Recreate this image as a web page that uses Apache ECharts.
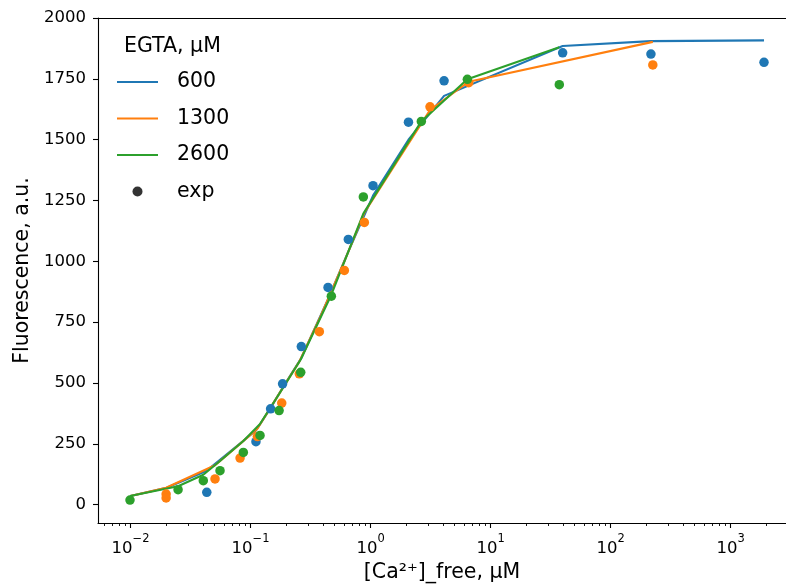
<!DOCTYPE html>
<html>
<head>
<meta charset="utf-8">
<script src="https://cdn.jsdelivr.net/npm/echarts@6/dist/echarts.min.js"></script>
<style>html,body{margin:0;padding:0;background:#fff}#c{width:786px;height:585px}</style>
</head>
<body>
<div id="c"></div>
<script>
// experimental points
var blueX = [0.0432, 0.111, 0.147, 0.185, 0.265, 0.4425, 0.653, 1.049, 2.07, 4.1, 39.9, 217, 1900];
var blueY = [51, 259, 394, 497, 650, 893, 1090, 1311, 1572, 1742, 1857, 1852, 1818];
var orangeX = [0.0198, 0.0198, 0.0506, 0.0818, 0.114, 0.182, 0.255, 0.3745, 0.605, 0.888, 3.13, 6.58, 225];
var orangeY = [44, 28, 106, 192, 280, 418, 538, 711, 963, 1160, 1635, 1734, 1807];
var greenX = [0.0099, 0.0249, 0.0404, 0.0557, 0.0871, 0.12, 0.173, 0.262, 0.4715, 0.871, 2.65, 6.41, 37.4];
var greenY = [19, 62, 99, 140, 215, 285, 387, 544, 857, 1265, 1575, 1748, 1726];
// model curves
var blueFitX = [0.01, 0.02, 0.0432, 0.111, 0.147, 0.185, 0.265, 0.4425, 0.653, 1.049, 2.07, 4.1, 39.9, 217, 1900];
var blueFitY = [36, 70, 140, 305, 398, 480, 603, 845, 1040, 1270, 1500, 1680, 1885, 1905, 1908];
var orangeFitX = [0.01, 0.0198, 0.0506, 0.0818, 0.114, 0.182, 0.255, 0.3745, 0.605, 0.888, 3.13, 6.58, 225];
var orangeFitY = [36, 70, 162, 250, 312, 473, 588, 763, 1000, 1200, 1622, 1738, 1902];
var greenFitX = [0.0099, 0.0249, 0.0404, 0.0557, 0.0871, 0.12, 0.173, 0.262, 0.4715, 0.871, 2.65, 6.41, 37.4];
var greenFitY = [36, 76, 123, 180, 262, 332, 455, 597, 863, 1196, 1575, 1748, 1880];
// ticks
var xMajorTicks = [0.01, 0.1, 1, 10, 100, 1000];
var yTicks = [0, 250, 500, 750, 1000, 1250, 1500, 1750, 2000];
var legendNames = ['600', '1300', '2600', 'exp'];

var xMinorTicks = [];
for (var n = -3; n <= 3; n++) {
  for (var k = 2; k <= 9; k++) {
    var v = k * Math.pow(10, n);
    if (v > 0.0054 && v < 2890) xMinorTicks.push(+v.toPrecision(3));
  }
}
function pairs(xs, ys) { return xs.map(function (x, i) { return [x, ys[i]]; }); }

var C = ['#1f77b4', '#ff7f0e', '#2ca02c'];
var FONT = 'DejaVu Sans';
var xMin = Math.pow(10, -2.271), xMax = Math.pow(10, 3.462);

function lineS(name, xs, ys, c) {
  return { type: 'line', name: name, data: pairs(xs, ys), symbol: 'none', xAxisIndex: 0,
    lineStyle: { color: c, width: 2.1 }, itemStyle: { color: c }, animation: false, z: 2 };
}
function dotS(xs, ys, c) {
  return { type: 'scatter', data: pairs(xs, ys), symbolSize: 9.5, xAxisIndex: 0,
    itemStyle: { color: c, opacity: 1 }, animation: false, z: 2 };
}
var LINE_ICON = 'path://M0,0L41,0L41,2.1L0,2.1Z';

var chart = echarts.init(document.getElementById('c'), null, { renderer: 'canvas' });
chart.setOption({
  animation: false,
  backgroundColor: '#fff',
  title: { text: 'EGTA, μM', left: 124, top: 36, padding: 0, textStyle: { fontFamily: FONT, fontSize: 20.5, fontWeight: 'normal', color: '#000' } },
  legend: {
    orient: 'vertical', left: 117, top: 71, padding: 0, itemWidth: 41, itemHeight: 10, itemGap: 14.5,
    data: [
      { name: legendNames[0], icon: LINE_ICON, itemStyle: { color: C[0] } },
      { name: legendNames[1], icon: LINE_ICON, itemStyle: { color: C[1] } },
      { name: legendNames[2], icon: LINE_ICON, itemStyle: { color: C[2] } },
      { name: legendNames[3], icon: 'circle', itemStyle: { color: '#000' } }
    ],
    textStyle: { fontFamily: FONT, fontSize: 20.5, color: '#000', lineHeight: 22, padding: [0, 0, 0, 14] },
    selectedMode: false
  },
  grid: { left: 98, top: 18, right: 0, bottom: 62, show: false, containLabel: false, outerBoundsMode: 'none' },
  xAxis: [{
    type: 'log', logBase: 10, min: xMin, max: xMax,
    name: '[Ca²⁺]_free, μM', nameLocation: 'middle', nameGap: 39,
    nameTextStyle: { fontFamily: FONT, fontSize: 20.5, color: '#000' },
    axisLine: { show: true, onZero: false, lineStyle: { color: '#000', width: 1.1 } },
    axisTick: { show: true, inside: false, length: 5, customValues: xMajorTicks, lineStyle: { color: '#000', width: 1.1 } },
    axisLabel: {
      customValues: xMajorTicks, margin: 10, color: '#000', fontFamily: FONT,
      formatter: function (v) {
        var e = Math.round(Math.log10(v));
        return '{b|10}{s|' + (e < 0 ? '−' : '') + Math.abs(e) + '}';
      },
      rich: {
        b: { fontFamily: FONT, fontSize: 16.5, color: '#000', lineHeight: 24, verticalAlign: 'bottom' },
        s: { fontFamily: FONT, fontSize: 11.5, color: '#000', lineHeight: 24, verticalAlign: 'top', padding: [0, 0, 6, 0] }
      }
    },
    splitLine: { show: false }
  }, {
    type: 'log', logBase: 10, min: xMin, max: xMax, position: 'bottom', gridIndex: 0,
    axisLine: { show: false, onZero: false },
    axisTick: { show: true, length: 3, customValues: xMinorTicks, lineStyle: { color: '#000', width: 0.9 } },
    axisLabel: { show: false },
    splitLine: { show: false }
  }, {
    type: 'log', logBase: 10, min: xMin, max: xMax, position: 'top', gridIndex: 0,
    axisLine: { show: true, onZero: false, lineStyle: { color: '#000', width: 1.1 } },
    axisTick: { show: false }, axisLabel: { show: false }, splitLine: { show: false }
  }],
  yAxis: {
    type: 'value', min: -75, max: 2000,
    name: 'Fluorescence, a.u.', nameLocation: 'middle', nameGap: 59,
    nameTextStyle: { fontFamily: FONT, fontSize: 20.5, color: '#000' },
    axisLine: { show: true, onZero: false, lineStyle: { color: '#000', width: 1.1 } },
    axisTick: { show: true, length: 5, customValues: yTicks, lineStyle: { color: '#000', width: 1.1 } },
    axisLabel: { customValues: yTicks, margin: 12, fontFamily: FONT, fontSize: 16.5, color: '#000',
      formatter: function (v) { return String(v); } },
    splitLine: { show: false }
  },
  series: [
    lineS(legendNames[0], blueFitX, blueFitY, C[0]),
    dotS(blueX, blueY, C[0]),
    lineS(legendNames[1], orangeFitX, orangeFitY, C[1]),
    dotS(orangeX, orangeY, C[1]),
    lineS(legendNames[2], greenFitX, greenFitY, C[2]),
    dotS(greenX, greenY, C[2]),
    { type: 'scatter', name: legendNames[3], data: [], itemStyle: { color: '#000' }, symbolSize: 9.5 }
  ]
});
</script>
</body>
</html>
